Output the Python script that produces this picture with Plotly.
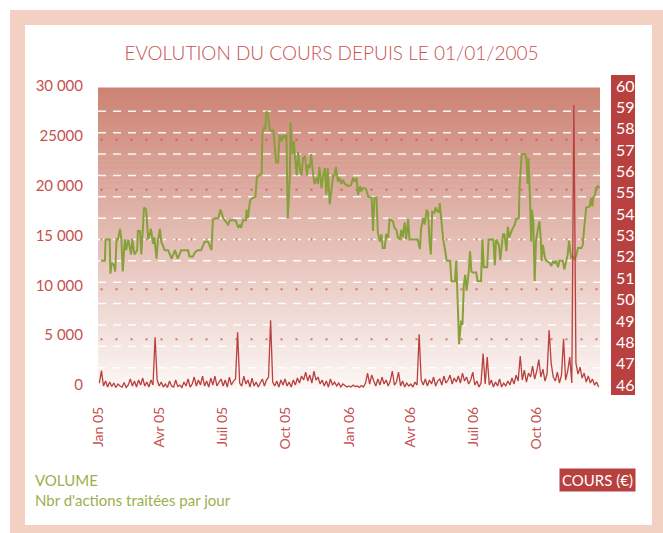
import plotly.graph_objects as go
import pandas as pd

# ---------------- data ----------------
price_dates = [
    "2005-01-05", "2005-01-11", "2005-01-12", "2005-01-18", "2005-01-19", "2005-01-21", "2005-01-24", "2005-01-26",
    "2005-01-28", "2005-01-30", "2005-02-02", "2005-02-04", "2005-02-06", "2005-02-09", "2005-02-11", "2005-02-14",
    "2005-02-18", "2005-02-20", "2005-02-23", "2005-02-27", "2005-02-28", "2005-03-03", "2005-03-05", "2005-03-09",
    "2005-03-12", "2005-03-15", "2005-03-17", "2005-03-19", "2005-03-22", "2005-03-24", "2005-03-27", "2005-03-29",
    "2005-04-01", "2005-04-03", "2005-04-08", "2005-04-13", "2005-04-18", "2005-04-23", "2005-04-27", "2005-05-02",
    "2005-05-07", "2005-05-12", "2005-05-14", "2005-05-19", "2005-05-22", "2005-05-26", "2005-05-31", "2005-06-05",
    "2005-06-10", "2005-06-15", "2005-06-17", "2005-06-20", "2005-06-25", "2005-06-28", "2005-07-02",
    "2005-07-07", "2005-07-09", "2005-07-12", "2005-07-20", "2005-07-24", "2005-07-26", "2005-07-28", "2005-07-31",
    "2005-08-04", "2005-08-05", "2005-08-07", "2005-08-10", "2005-08-12", "2005-08-14", "2005-08-18", "2005-08-20",
    "2005-08-23", "2005-08-27", "2005-08-28", "2005-08-30", "2005-09-01", "2005-09-03", "2005-09-05", "2005-09-08",
    "2005-09-13", "2005-09-17", "2005-09-20", "2005-09-22", "2005-09-25", "2005-09-27", "2005-09-29", "2005-10-02",
    "2005-10-04", "2005-10-07", "2005-10-08", "2005-10-11", "2005-10-13", "2005-10-14", "2005-10-17", "2005-10-19",
    "2005-10-22", "2005-10-24", "2005-10-26", "2005-10-29", "2005-11-01", "2005-11-02", "2005-11-05", "2005-11-07",
    "2005-11-10", "2005-11-12", "2005-11-15", "2005-11-17", "2005-11-19", "2005-11-22", "2005-11-24", "2005-11-27",
    "2005-11-29", "2005-12-01", "2005-12-04", "2005-12-06", "2005-12-09", "2005-12-11", "2005-12-13", "2005-12-16",
    "2005-12-18", "2005-12-21", "2005-12-23", "2005-12-26", "2005-12-31",
    "2006-01-04", "2006-01-07", "2006-01-09", "2006-01-12", "2006-01-14", "2006-01-17", "2006-01-19", "2006-01-21",
    "2006-01-24", "2006-01-26", "2006-01-29", "2006-02-03", "2006-02-05", "2006-02-07", "2006-02-10", "2006-02-12",
    "2006-02-15", "2006-02-17", "2006-02-19", "2006-02-22", "2006-02-24", "2006-02-27", "2006-03-01", "2006-03-04",
    "2006-03-06", "2006-03-08", "2006-03-11", "2006-03-13", "2006-03-16", "2006-03-18", "2006-03-20", "2006-03-23",
    "2006-03-25", "2006-03-28", "2006-03-30", "2006-04-07", "2006-04-11", "2006-04-14", "2006-04-16", "2006-04-19",
    "2006-04-21", "2006-04-24", "2006-04-26", "2006-04-28", "2006-04-30", "2006-05-02", "2006-05-05", "2006-05-07",
    "2006-05-10", "2006-05-12", "2006-05-13", "2006-05-15", "2006-05-18", "2006-05-21", "2006-05-23", "2006-05-28",
    "2006-05-30", "2006-06-04", "2006-06-06", "2006-06-09", "2006-06-10", "2006-06-13", "2006-06-15", "2006-06-17",
    "2006-06-19", "2006-06-21", "2006-06-24", "2006-06-26",
    "2006-06-28", "2006-06-30", "2006-07-05", "2006-07-07", "2006-07-12", "2006-07-14", "2006-07-16", "2006-07-21",
    "2006-07-23", "2006-07-30", "2006-08-01", "2006-08-03", "2006-08-07", "2006-08-09", "2006-08-11", "2006-08-13",
    "2006-08-15", "2006-08-18", "2006-08-20", "2006-08-22", "2006-08-26", "2006-08-30", "2006-09-01", "2006-09-05",
    "2006-09-06", "2006-09-09", "2006-09-14", "2006-09-16", "2006-09-18", "2006-09-19", "2006-09-21", "2006-09-23",
    "2006-09-24", "2006-09-26", "2006-09-28", "2006-09-30", "2006-10-03", "2006-10-05", "2006-10-07", "2006-10-08",
    "2006-10-10", "2006-10-13", "2006-10-15", "2006-10-20", "2006-10-22", "2006-10-25", "2006-10-27", "2006-10-29",
    "2006-11-01", "2006-11-03", "2006-11-08", "2006-11-10", "2006-11-13", "2006-11-15", "2006-11-17", "2006-11-19",
    "2006-11-20", "2006-11-23", "2006-11-25", "2006-11-27", "2006-11-30", "2006-12-05", "2006-12-07", "2006-12-09",
    "2006-12-12", "2006-12-17", "2006-12-19", "2006-12-21", "2006-12-22", "2006-12-25", "2006-12-26", "2006-12-29",
    "2006-12-31",
]
price_values = [
    52.0, 52.0, 53.0, 53.0, 51.4, 51.9, 51.8, 51.5,
    53.0, 53.0, 53.5, 53.0, 51.5, 53.0, 52.5, 53.0,
    52.3, 53.0, 52.3, 52.5, 53.4, 53.4, 52.3, 54.5,
    54.4, 53.0, 53.2, 53.5, 52.8, 53.1, 52.1, 52.9,
    53.5, 52.9, 52.5, 52.5, 52.1, 52.5, 52.1, 52.5,
    52.5, 52.5, 52.2, 52.2, 52.4, 52.5, 52.5, 52.9,
    52.9, 52.5, 53.9, 54.0, 54.0, 54.4, 54.0,
    53.8, 53.7, 53.9, 53.9, 53.55, 53.7, 53.55, 53.9,
    53.9, 54.4, 54.0, 54.8, 54.9, 54.95, 55.0, 55.9,
    56.0, 56.1, 57.9, 58.25, 58.15, 59.0, 58.9, 58.1,
    58.1, 56.6, 56.6, 57.9, 57.6, 57.9, 57.75, 57.9,
    54.0, 56.0, 58.5, 57.0, 57.6, 57.0, 56.0, 57.1,
    56.2, 56.0, 56.8, 56.9, 56.0, 56.5, 56.35, 57.0,
    56.0, 55.6, 55.9, 55.6, 56.4, 55.4, 55.9, 56.35,
    55.1, 56.35, 54.65, 55.25, 56.0, 56.0, 56.4, 55.7,
    55.9, 55.6, 55.8, 55.6, 55.5,
    55.55, 55.9, 55.7, 55.9, 55.1, 55.5, 55.25, 55.4,
    55.4, 55.35, 55.0, 54.95, 53.4, 54.95, 54.95, 53.3,
    52.9, 53.25, 52.6, 52.6, 53.25, 53.1, 53.95, 53.9,
    53.85, 53.55, 53.45, 53.1, 53.0, 53.45, 53.1, 53.8,
    53.0, 53.95, 53.0, 53.0, 53.0, 52.55, 53.55, 54.0,
    53.7, 54.4, 54.25, 52.95, 52.3, 54.3, 54.25, 54.5,
    54.3, 54.3, 54.7, 54.0, 53.0, 52.45, 52.0, 52.0,
    51.05, 51.05, 52.0, 49.2, 48.1, 49.2, 49.0, 50.9,
    51.35, 50.6, 51.45, 52.45,
    51.5, 51.45, 51.45, 51.05, 51.05, 53.0, 51.7, 51.7,
    53.0, 53.0, 51.8, 53.0, 52.75, 52.05, 52.75, 53.25,
    53.25, 52.45, 53.6, 53.1, 53.45, 53.7, 53.95, 54.0,
    55.4, 57.0, 57.0, 56.8, 55.6, 56.8, 55.1, 52.9,
    54.4, 53.85, 51.05, 52.95, 53.55, 53.85, 52.95, 52.0,
    52.75, 52.15, 52.0, 51.9, 51.75, 52.0, 51.9, 52.0,
    51.7, 52.0, 52.0, 51.6, 52.0, 52.3, 52.95, 52.45,
    52.15, 52.2, 52.05, 52.2, 52.6, 52.6, 52.75, 53.55,
    54.5, 54.55, 54.95, 54.55, 54.95, 55.1, 55.4, 55.5,
    55.4,
]

# daily volume sampled every 3 days from 2005-01-03
volume_start = "2005-01-03"
volume_values = [
    600, 1850, 300, 800, 200, 700, 250, 600, 150, 500,
    300, 200, 650, 150, 400, 1000, 300, 800, 200, 900,
    400, 1100, 300, 700, 200, 900, 400, 5200, 900, 300,
    700, 200, 500, 150, 800, 300, 200, 900, 250, 400,
    150, 700, 300, 1000, 200, 500, 1200, 300, 900, 400,
    1300, 300, 800, 200, 1100, 400, 1300, 300, 700, 1000,
    300, 900, 200, 1200, 400, 800, 1000, 5700, 600, 300,
    1300, 500, 900, 200, 1100, 300, 700, 200, 600, 1000,
    300, 900, 1200, 6900, 700, 300, 800, 200, 900, 400,
    1000, 300, 700, 200, 900, 400, 1100, 600, 1300, 900,
    1700, 800, 1400, 600, 1800, 900, 1200, 500, 900, 300,
    800, 200, 1000, 400, 700, 300, 600, 200, 500, 300,
    200, 300, 200, 400, 250, 300, 150, 350, 200, 600,
    1600, 500, 1400, 800, 300, 1000, 400, 1200, 500, 900,
    300, 800, 1800, 400, 700, 1700, 300, 800, 200, 600,
    300, 500, 200, 700, 400, 5500, 900, 400, 1000, 300,
    900, 500, 1200, 300, 800, 1000, 400, 1300, 600, 900,
    1400, 500, 1100, 700, 1300, 600, 1600, 800, 1200, 500,
    900, 1700, 400, 800, 200, 600, 3550, 500, 3200, 400,
    900, 200, 700, 300, 1000, 200, 600, 300, 800, 400,
    1100, 500, 1400, 800, 3300, 900, 1900, 700, 1600, 1200,
    2300, 1000, 1800, 2950, 1200, 2000, 800, 1500, 5900, 2600,
    1200, 800, 1700, 600, 1400, 5050, 900, 1800, 3200, 600,
    28500, 2600, 1500, 2200, 1100, 1600, 700, 1300, 600, 1000,
    400, 700, 200,
]

x_range = ["2005-01-01", "2007-01-01"]
x_tickvals = ["2005-01-01", "2005-04-01", "2005-07-01", "2005-10-01",
              "2006-01-01", "2006-04-01", "2006-07-01", "2006-10-01"]
x_ticktext = ["Jan 05", "Avr 05", "Juil 05", "Oct 05", "Jan 06", "Avr 06", "Juil 06", "Oct 06"]

vol_range = [0, 30000]
vol_tickvals = [0, 5000, 10000, 15000, 20000, 25000, 30000]
vol_ticktext = ["0", "5 000", "10 000", "15 000", "20 000", "25000", "30 000"]
vol_grid = [5000, 10000, 15000, 20000, 25000]

price_range = [46, 60]
price_tickvals = list(range(46, 61))
price_grid = list(range(47, 60))

title_text = "EVOLUTION DU COURS DEPUIS LE 01/01/2005"
legend_left_1 = "VOLUME"
legend_left_2 = "Nbr d'actions traitées par jour"
legend_right = "COURS (€)"

# ---------------- style ----------------
RED = "#B8403E"
RED_TEXT = "#C4524F"
GREEN = "#86A13B"
GREEN_TEXT = "#9BB04F"
PEACH = "#F2D1C2"
FONT = "Lato"

W, H = 663, 533
L, R, T, B = 98, 63, 90, 144
PW, PH = W - L - R, H - T - B


def px(xpix):
    return (xpix - L) / PW


def py(ypix):
    return (H - B - ypix) / PH


volume_dates = pd.date_range(volume_start, periods=len(volume_values), freq="3D")

fig = go.Figure()
fig.add_trace(go.Scatter(x=price_dates, y=price_values, mode="lines", yaxis="y",
                         line=dict(color=GREEN, width=2), name="Cours", showlegend=False,
                         hoverinfo="skip"))
fig.add_trace(go.Scatter(x=volume_dates, y=volume_values, mode="lines", yaxis="y2",
                         line=dict(color=RED, width=1.3), name="Volume", showlegend=False,
                         hoverinfo="skip"))

shapes = []
# outer peach frame and inner white panel
shapes.append(dict(type="rect", xref="paper", yref="paper", x0=px(10), x1=px(700), y0=py(560), y1=py(10),
                   fillcolor=PEACH, line=dict(width=0), layer="below"))
shapes.append(dict(type="rect", xref="paper", yref="paper", x0=px(25), x1=px(652), y0=py(525), y1=py(25),
                   fillcolor="white", line=dict(width=0), layer="below"))
# background gradient
top_c = (204, 131, 115)
bot_c = (252, 247, 245)
n = 120
y_top = py(88)
for i in range(n):
    f0 = i / n
    f1 = (i + 1) / n
    fm = (i + 0.5) / n
    c = tuple(round(bot_c[k] + (top_c[k] - bot_c[k]) * fm) for k in range(3))
    shapes.append(dict(type="rect", xref="paper", yref="paper", x0=0, x1=1,
                       y0=f0 * y_top, y1=f1 * y_top + 0.002,
                       fillcolor="rgb(%d,%d,%d)" % c, line=dict(width=0), layer="below"))
# right axis red column
shapes.append(dict(type="rect", xref="paper", yref="paper", x0=px(611), x1=px(635), y0=py(395), y1=py(75),
                   fillcolor=RED, line=dict(width=0), layer="below"))
# grid lines
for v in price_grid:
    shapes.append(dict(type="line", xref="paper", yref="y", x0=0, x1=1, y0=v, y1=v,
                       line=dict(color="rgba(255,255,255,0.9)", width=1.5, dash="8px,7px"), layer="below"))
for v in vol_grid:
    shapes.append(dict(type="line", xref="paper", yref="y2", x0=0.005, x1=1, y0=v, y1=v,
                       line=dict(color="rgba(200,80,75,0.75)", width=2, dash="2px,13px"), layer="below"))

annotations = [
    dict(text=legend_left_1, xref="paper", yref="paper", x=px(33), y=py(480), xanchor="left", yanchor="middle",
         showarrow=False, font=dict(family=FONT, size=15, color=GREEN_TEXT)),
    dict(text=legend_left_2, xref="paper", yref="paper", x=px(33), y=py(500), xanchor="left", yanchor="middle",
         showarrow=False, font=dict(family=FONT, size=15, color=GREEN_TEXT)),
    dict(text=legend_right, xref="paper", yref="paper", x=px(636), y=py(480), xanchor="right", yanchor="middle",
         showarrow=False, font=dict(family=FONT, size=15, color="white"), bgcolor=RED, borderpad=2),
]

fig.update_layout(
    width=W, height=H,
    margin=dict(l=L, r=R, t=T, b=B, pad=0),
    paper_bgcolor="white",
    plot_bgcolor="rgba(0,0,0,0)",
    font=dict(family=FONT, color=RED_TEXT),
    title=dict(text=title_text, x=0.5, xref="container", xanchor="center",
               y=1 - 53 / H, yref="container", yanchor="middle",
               font=dict(family=FONT, size=19, color=RED_TEXT, weight=300)),
    xaxis=dict(type="date", range=x_range, tickmode="array", tickvals=x_tickvals, ticktext=x_ticktext,
               tickangle=-90, showgrid=False, zeroline=False, showline=False, ticks="",
               tickfont=dict(family=FONT, size=14, color=RED_TEXT), ticklabelstandoff=14),
    yaxis=dict(range=price_range, tickmode="array", tickvals=price_tickvals, side="right",
               showgrid=False, zeroline=False, showline=False, ticks="",
               tickfont=dict(family=FONT, size=16, color="white"), ticklabelstandoff=15,
               ticklabelshift=-4),
    yaxis2=dict(range=vol_range, tickmode="array", tickvals=vol_tickvals, ticktext=vol_ticktext,
                overlaying="y", side="left", showgrid=False, zeroline=False, showline=False, ticks="",
                tickfont=dict(family=FONT, size=15, color=RED_TEXT), ticklabelstandoff=14,
                ticklabelshift=-4),
    shapes=shapes,
    annotations=annotations,
    showlegend=False,
)

fig.write_html("out.html", config={"displayModeBar": False},
               post_script="document.body.style.margin='0px';")
